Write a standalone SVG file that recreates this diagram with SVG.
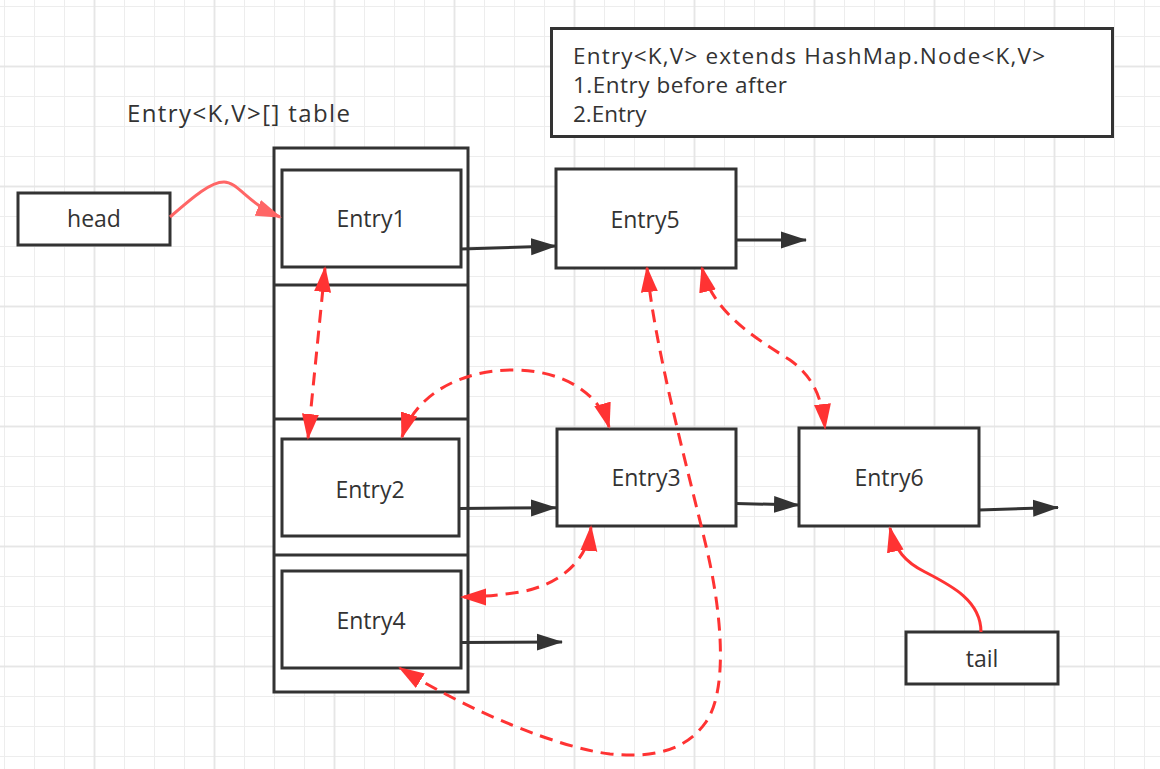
<svg xmlns="http://www.w3.org/2000/svg" width="1160" height="769" viewBox="0 0 1160 769">
<defs>
<pattern id="gthin" patternUnits="userSpaceOnUse" x="4" y="6" width="30" height="30"><path d="M0.5 0V30M0 0.5H30" stroke="#ededed" stroke-width="1" fill="none"/></pattern>
<pattern id="gthick" patternUnits="userSpaceOnUse" x="93.5" y="65.5" width="120" height="120"><path d="M1 0V120M0 1H120" stroke="#e3e3e3" stroke-width="1.5" fill="none"/></pattern>
<marker id="ab" markerUnits="userSpaceOnUse" markerWidth="26" markerHeight="18" refX="25" refY="8.5" orient="auto" viewBox="0 0 26 17"><path d="M0,0L26,8.5L0,17Z" fill="#333333"/></marker>
<marker id="ar" markerUnits="userSpaceOnUse" markerWidth="26" markerHeight="18" refX="24" refY="8.5" orient="auto-start-reverse" viewBox="0 0 26 17"><path d="M0,0L26,8.5L0,17Z" fill="#ff3333"/></marker>
<marker id="ap" markerUnits="userSpaceOnUse" markerWidth="26" markerHeight="18" refX="24" refY="8.5" orient="auto" viewBox="0 0 26 17"><path d="M0,0L26,8.5L0,17Z" fill="#ff6666"/></marker>
</defs>
<style>
.box{fill:#ffffff;stroke:#333333;stroke-width:3}
.frame{fill:none;stroke:#333333;stroke-width:3}
.t{font-family:"Open Sans","Noto Sans","DejaVu Sans",sans-serif;font-size:23px;fill:#333333}
.n{font-size:22.5px}
.c{text-anchor:middle}
.blk{fill:none;stroke:#333333;stroke-width:3;marker-end:url(#ab)}
.dash{fill:none;stroke:#ff3333;stroke-width:3;stroke-dasharray:13 8;marker-start:url(#ar);marker-end:url(#ar)}
</style>
<rect width="1160" height="769" fill="#ffffff"/>
<rect width="1160" height="769" fill="url(#gthin)"/>
<rect width="1160" height="769" fill="url(#gthick)"/>

<g id="title"><text class="t" x="127" y="122" style="font-size:24px" textLength="223" lengthAdjust="spacing">Entry&lt;K,V&gt;[] table</text></g>

<g id="note">
<rect class="box" x="551.5" y="28.5" width="561" height="108"/>
<text class="t n" x="573" y="64" textLength="472" lengthAdjust="spacing">Entry&lt;K,V&gt; extends HashMap.Node&lt;K,V&gt;</text>
<text class="t n" x="573" y="92.5" textLength="214" lengthAdjust="spacing">1.Entry before after</text>
<text class="t n" x="573" y="121.5">2.Entry</text>
</g>

<g id="table">
<rect class="box" x="274" y="148" width="194" height="544"/>
<path class="frame" d="M274,285H468M274,419H468M274,555H468"/>
</g>

<g id="head"><rect class="box" x="18" y="193" width="152" height="52"/><text class="t c" x="94" y="227">head</text></g>
<g id="tail"><rect class="box" x="906" y="632" width="152" height="52"/><text class="t c" x="982" y="667">tail</text></g>
<g id="entry1"><rect class="box" x="282" y="170" width="179" height="97"/><text class="t c" x="371" y="227">Entry1</text></g>
<g id="entry2"><rect class="box" x="282" y="439" width="177" height="97"/><text class="t c" x="370" y="498">Entry2</text></g>
<g id="entry4"><rect class="box" x="282" y="571" width="179" height="97"/><text class="t c" x="371" y="629">Entry4</text></g>
<g id="entry5"><rect class="box" x="556" y="169" width="180" height="99"/><text class="t c" x="645" y="228">Entry5</text></g>
<g id="entry3"><rect class="box" x="557" y="429" width="179" height="97"/><text class="t c" x="646" y="486">Entry3</text></g>
<g id="entry6"><rect class="box" x="799" y="428" width="180" height="98"/><text class="t c" x="889" y="486">Entry6</text></g>

<g id="connectors">
<path class="blk" d="M461,249L556,246"/>
<path class="blk" d="M736,240L806,240"/>
<path class="blk" d="M459,508.5L556,507.7"/>
<path class="blk" d="M461,642.5L562,642"/>
<path class="blk" d="M736,503.5L799,505"/>
<path class="blk" d="M979,510L1058,507.5"/>
<path d="M170,217C192,198 210,182 224,182C238,182 248,204 280,217" fill="none" stroke="#ff6666" stroke-width="3" marker-end="url(#ap)"/>
<path d="M981,632C981,600 950,585 925,572C905,562 895,550 890,528" fill="none" stroke="#ff3333" stroke-width="3" marker-end="url(#ar)"/>
<path class="dash" d="M325,268L308,438"/>
<path class="dash" d="M402,437C415,395 460,370 513,370C565,370 600,395 609,427"/>
<path class="dash" d="M702,268C712,310 750,335 790,360C815,378 822,400 825,428"/>
<path class="dash" d="M647,268C655,350 688,470 707,550C722,615 728,690 706,722C685,752 650,758 610,754C560,748 470,712 400,668"/>
<path class="dash" d="M591,527C588,560 560,585 520,592C500,595 480,597 462,597"/>
</g>
</svg>
